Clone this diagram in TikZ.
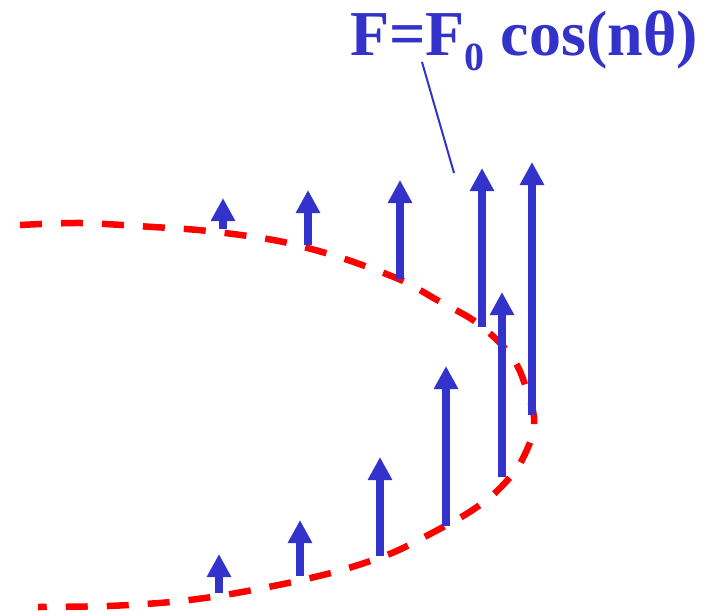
\documentclass[tikz,border=0pt]{standalone}
\usepackage{fontspec}
\setmainfont{Liberation Serif}
\usepackage{tikz}
\usepackage{xcolor}
\usetikzlibrary{arrows.meta}
\definecolor{forceblue}{RGB}{51,51,204}
\definecolor{ringred}{RGB}{255,0,0}

\begin{document}
\begin{tikzpicture}[
  x=1pt, y=-1pt,
  force/.style={draw=forceblue, line width=8pt, -{Triangle[width=23pt,length=23pt]}},
  ring/.style={draw=ringred, line width=6.5pt, dash pattern=on 22pt off 19pt},
  lead/.style={draw=forceblue, line width=2pt},
  lawtext/.style={text=forceblue, inner sep=0pt, anchor=base west, font=\fontsize{64}{70}\selectfont\bfseries}
]
\useasboundingbox (0,0) rectangle (705,611);
% deformed ring (right half)
\draw[ring] plot[smooth] coordinates {(20,225) (81,223) (153,227) (198,230) (248,236) (288,243) (342,258) (401,280) (437,300) (473,320) (500,343) (518,367) (529,397) (534,417) (532,437) (518,467) (495,493) (468,513) (432,533) (392,553) (342,570) (288,583) (225,595) (171,602) (108,606) (38,607)};
% force arrows: x / base / tip
\foreach \x/\b/\t [count=\i] in {223/229/198, 308/245/190, 400/279/180, 482/327/168, 532/415/162, 502/477/292, 446/526/366, 380/556/457, 300/576/520, 219/593/554}{
  \coordinate (b\i) at (\x,\b);
  \coordinate (t\i) at (\x,\t);
  \draw[force] (b\i) -- (t\i);
}
\node[lawtext] (law) at (350,55) {F=F\raisebox{-15pt}{\fontsize{40}{40}\selectfont 0} cos(nθ)};
\coordinate (leadtop) at (422,62);
\coordinate (leadend) at (454,173);
\draw[lead] (leadtop) -- (leadend);
\end{tikzpicture}
\end{document}
